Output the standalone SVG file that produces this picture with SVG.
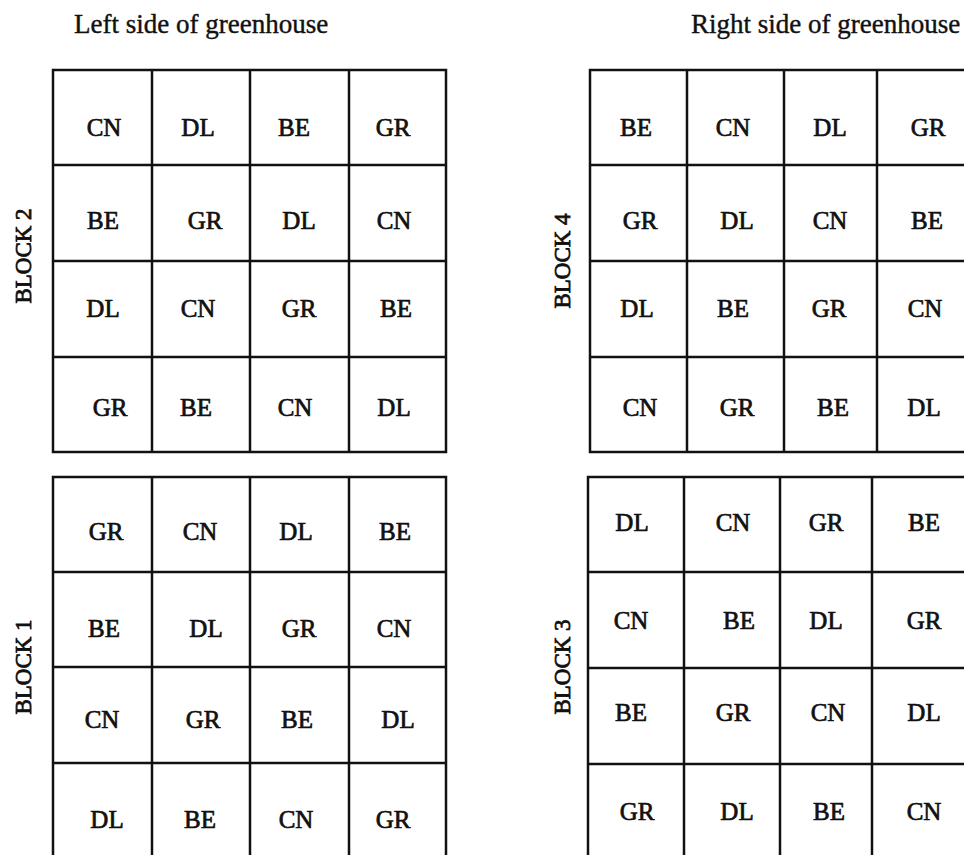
<svg xmlns="http://www.w3.org/2000/svg" width="964" height="855" viewBox="0 0 964 855">
<style>
.g{fill:none;stroke:#111;stroke-width:2.5}
.t{font-family:"Liberation Serif","Times New Roman",serif;font-size:25px;fill:#111;stroke:#111;stroke-width:0.7;text-anchor:middle}
.h{font-family:"Liberation Serif","Times New Roman",serif;font-size:27px;fill:#111;stroke:#111;stroke-width:0.4}
.b{font-family:"Liberation Serif","Times New Roman",serif;font-size:23px;fill:#111;stroke:#111;stroke-width:0.8;text-anchor:middle}
</style>
<rect width="964" height="855" fill="#fff"/>
<text class="h" x="74" y="33">Left side of greenhouse</text>
<text class="h" x="691" y="33">Right side of greenhouse</text>

<g id="block2">
<rect class="g" x="53" y="70" width="393" height="382"/>
<path class="g" d="M152 70V452M250 70V452M349 70V452M53 165H446M53 261H446M53 357H446"/>
<text class="b" transform="translate(31,256) rotate(-90)">BLOCK 2</text>
<text class="t" x="104" y="136">CN</text><text class="t" x="198" y="136">DL</text><text class="t" x="294" y="136">BE</text><text class="t" x="393" y="136">GR</text>
<text class="t" x="103" y="229">BE</text><text class="t" x="205" y="229">GR</text><text class="t" x="299" y="229">DL</text><text class="t" x="394" y="229">CN</text>
<text class="t" x="103" y="317">DL</text><text class="t" x="198" y="317">CN</text><text class="t" x="299" y="317">GR</text><text class="t" x="396" y="317">BE</text>
<text class="t" x="110" y="416">GR</text><text class="t" x="196" y="416">BE</text><text class="t" x="295" y="416">CN</text><text class="t" x="394" y="416">DL</text>
</g>

<g id="block1">
<rect class="g" x="53" y="477" width="393" height="385"/>
<path class="g" d="M152 477V862M250 477V862M349 477V862M53 572H446M53 667H446M53 763H446"/>
<text class="b" transform="translate(31,667) rotate(-90)">BLOCK 1</text>
<text class="t" x="106" y="540">GR</text><text class="t" x="200" y="540">CN</text><text class="t" x="296" y="540">DL</text><text class="t" x="395" y="540">BE</text>
<text class="t" x="104" y="637">BE</text><text class="t" x="206" y="637">DL</text><text class="t" x="299" y="637">GR</text><text class="t" x="394" y="637">CN</text>
<text class="t" x="102" y="728">CN</text><text class="t" x="203" y="728">GR</text><text class="t" x="297" y="728">BE</text><text class="t" x="398" y="728">DL</text>
<text class="t" x="107" y="828">DL</text><text class="t" x="200" y="828">BE</text><text class="t" x="296" y="828">CN</text><text class="t" x="393" y="828">GR</text>
</g>

<g id="block4">
<rect class="g" x="590" y="70" width="382" height="382"/>
<path class="g" d="M687 70V452M784 70V452M877 70V452M590 165H972M590 261H972M590 357H972"/>
<text class="b" transform="translate(570,261) rotate(-90)">BLOCK 4</text>
<text class="t" x="636" y="136">BE</text><text class="t" x="733" y="136">CN</text><text class="t" x="830" y="136">DL</text><text class="t" x="928" y="136">GR</text>
<text class="t" x="640" y="229">GR</text><text class="t" x="737" y="229">DL</text><text class="t" x="830" y="229">CN</text><text class="t" x="927" y="229">BE</text>
<text class="t" x="637" y="317">DL</text><text class="t" x="733" y="317">BE</text><text class="t" x="829" y="317">GR</text><text class="t" x="925" y="317">CN</text>
<text class="t" x="640" y="416">CN</text><text class="t" x="737" y="416">GR</text><text class="t" x="833" y="416">BE</text><text class="t" x="924" y="416">DL</text>
</g>

<g id="block3">
<rect class="g" x="588" y="477" width="382" height="385"/>
<path class="g" d="M684 477V862M780 477V862M872 477V862M588 572H970M588 668H970M588 764H970"/>
<text class="b" transform="translate(570,667) rotate(-90)">BLOCK 3</text>
<text class="t" x="632" y="531">DL</text><text class="t" x="733" y="531">CN</text><text class="t" x="826" y="531">GR</text><text class="t" x="924" y="531">BE</text>
<text class="t" x="631" y="629">CN</text><text class="t" x="739" y="629">BE</text><text class="t" x="826" y="629">DL</text><text class="t" x="924" y="629">GR</text>
<text class="t" x="631" y="721">BE</text><text class="t" x="733" y="721">GR</text><text class="t" x="828" y="721">CN</text><text class="t" x="924" y="721">DL</text>
<text class="t" x="637" y="820">GR</text><text class="t" x="737" y="820">DL</text><text class="t" x="829" y="820">BE</text><text class="t" x="924" y="820">CN</text>
</g>
</svg>
